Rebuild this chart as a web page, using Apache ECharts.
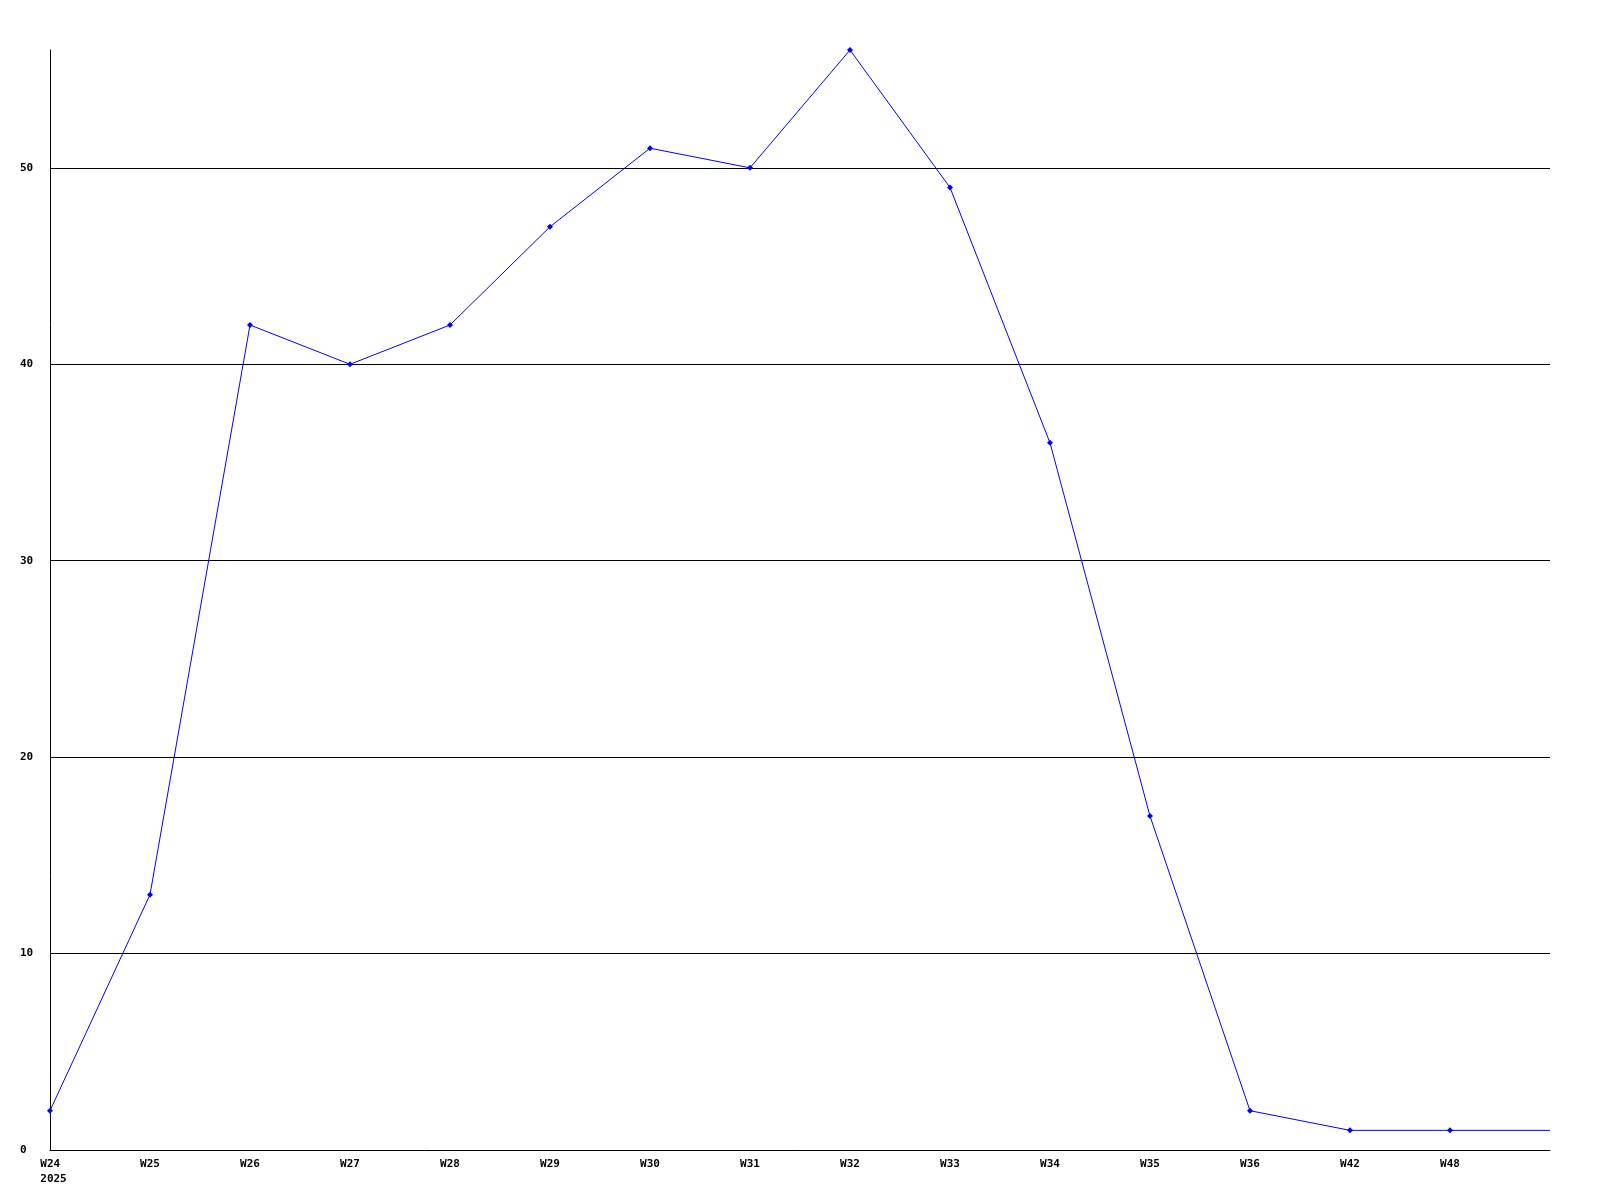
<!DOCTYPE html>
<html>
<head>
<meta charset="utf-8">
<script src="https://cdn.jsdelivr.net/npm/echarts@6/dist/echarts.min.js"></script>
<style>
  html, body { margin: 0; padding: 0; background: #fff; }
  #chart { width: 1600px; height: 1200px; }
</style>
</head>
<body>
<div id="chart"></div>
<script>
// weeks on the x axis; the last one has no label, the line just runs on to the edge
const weeks = ['W24\n2025', 'W25', 'W26', 'W27', 'W28', 'W29', 'W30', 'W31', 'W32', 'W33', 'W34', 'W35', 'W36', 'W42', 'W48', '']
const counts = [2, 13, 42, 40, 42, 47, 51, 50, 56, 49, 36, 17, 2, 1, 1, 1]
const yMax = 56

const chart = echarts.init(document.getElementById('chart'))

const labelFont = { fontFamily: 'DejaVu Sans Mono', fontWeight: 'bold', fontSize: 11, color: '#000' }

chart.setOption({
  animation: false,
  backgroundColor: '#fff',
  grid: { left: 50, right: 50, top: 50, bottom: 50 },
  xAxis: {
    type: 'category',
    data: weeks,
    boundaryGap: false,
    axisLine: { lineStyle: { color: '#000', width: 1 } },
    axisTick: { show: false },
    axisLabel: {
      ...labelFont,
      margin: 7,
      lineHeight: 15,
      verticalAlign: 'top',
      interval: 0,
      // the year line sits flush left under the first week label
      formatter: (v) => v.includes('\n') ? v.split('\n').map(s => '{f|' + s + '}').join('\n') : v,
      rich: { f: { ...labelFont, lineHeight: 15, align: 'left', padding: [0, 0, 0, 7] } }
    },
    splitLine: { show: false }
  },
  yAxis: {
    type: 'value',
    min: 0,
    max: yMax,
    interval: 10,
    axisLine: { show: true, lineStyle: { color: '#000', width: 1 } },
    axisTick: { show: false },
    axisLabel: { ...labelFont, align: 'left', margin: 30, showMaxLabel: false },
    splitLine: { show: true, showMinLine: false, showMaxLine: false, lineStyle: { color: '#000', width: 1 } }
  },
  series: [
    {
      type: 'line',
      data: counts.map((v, i) => i === counts.length - 1 ? { value: v, symbol: 'none' } : v),
      symbol: 'diamond',
      symbolSize: 6,
      showSymbol: true,
      itemStyle: { color: '#0000ff' },
      lineStyle: { color: '#0000ff', width: 1 }
    }
  ]
})
</script>
</body>
</html>
